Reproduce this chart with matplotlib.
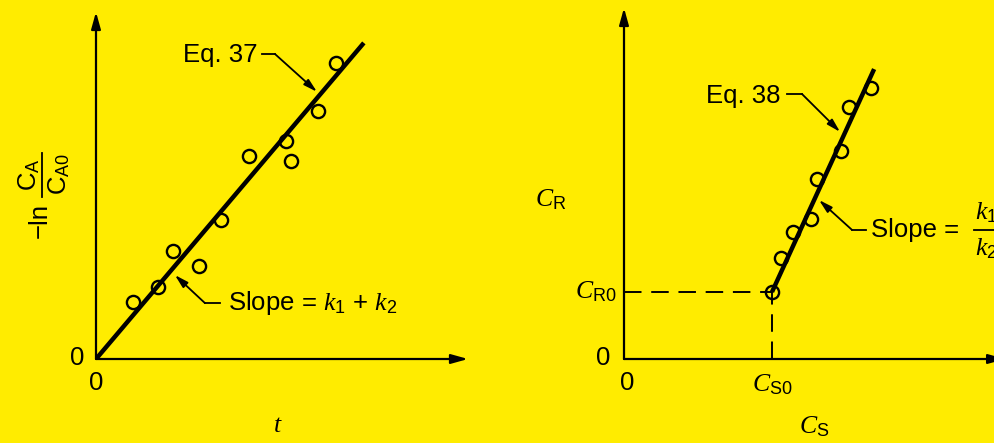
import matplotlib
matplotlib.use("Agg")
import matplotlib.pyplot as plt

plt.rcParams['font.family'] = ['Liberation Sans', 'DejaVu Sans']
plt.rcParams['mathtext.fontset'] = 'custom'
plt.rcParams['mathtext.rm'] = 'Liberation Sans'
plt.rcParams['mathtext.it'] = 'Liberation Serif:italic'
plt.rcParams['mathtext.bf'] = 'Liberation Sans:bold'

BG = '#FFEC00'
FS = 18.5

# left: -ln(CA/CA0) against t
t_pts = [0.99, 1.67, 2.07, 2.77, 3.36, 4.11, 5.11, 5.24, 5.97, 6.45]
lnc_pts = [1.64, 2.07, 3.11, 2.68, 4.01, 5.85, 6.28, 5.71, 7.15, 8.53]
t_fit = [0.0, 7.20]
lnc_fit = [0.0, 9.11]

# right: CR against CS
cs_pts = [4.0, 4.24, 4.57, 5.05, 5.22, 5.86, 6.08, 6.68]
cr_pts = [1.91, 2.88, 3.62, 3.99, 5.13, 5.93, 7.18, 7.72]
cs_fit = [4.0, 6.76]
cr_fit = [1.91, 8.26]
cs0 = cs_pts[0]
cr0 = cr_pts[0]

W, H = 994, 443
fig = plt.figure(figsize=(W / 100, H / 100), dpi=100, facecolor=BG)


def make_axes(x0, y0, x1, y1):
    ax = fig.add_axes([x0 / W, 1 - y0 / H, (x1 - x0) / W, (y0 - y1) / H])
    ax.set_facecolor('none')
    ax.set_xlim(0, 10)
    ax.set_ylim(0, 10)
    for s in ax.spines.values():
        s.set_visible(False)
    ax.set_xticks([])
    ax.set_yticks([])
    return ax


def axis_arrows(ax, xend=1.0):
    style = dict(arrowstyle='-|>,head_length=1.0,head_width=0.28',
                 lw=1.6, color='black', shrinkA=0, shrinkB=0)
    ax.annotate('', xy=(xend, 0), xytext=(0, 0), xycoords='axes fraction',
                arrowprops=style, annotation_clip=False)
    ax.annotate('', xy=(0, 1), xytext=(0, 0), xycoords='axes fraction',
                arrowprops=style, annotation_clip=False)


def pointer(ax, p0, p1, tip):
    ax.plot([p0[0], p1[0]], [p0[1], p1[1]], color='black', lw=1.3, clip_on=False)
    ax.annotate('', xy=tip, xytext=p1,
                arrowprops=dict(arrowstyle='-|>,head_length=0.8,head_width=0.22',
                                lw=1.3, color='black', shrinkA=0, shrinkB=0))


def circles(ax, x, y):
    ax.plot(x, y, 'o', ms=9.5, mfc='none', mec='black', mew=1.7, clip_on=False)


# ---- left panel ----
ax1 = make_axes(96, 359, 468, 12)
axis_arrows(ax1)
ax1.plot(t_fit, lnc_fit, color='black', lw=3.2, solid_capstyle='butt')
circles(ax1, t_pts, lnc_pts)
ax1.text(-0.51, 0.03, '0', fontsize=FS, ha='center', va='center')
ax1.text(0, -0.69, '0', fontsize=FS, ha='center', va='center')
ax1.text(4.89, -1.9, '$t$', fontsize=FS, ha='center', va='center')

# y label: -ln (CA / CA0), built by hand so the fraction stays full size
ax1.text(-1.51, 3.98, '\u2212ln', fontsize=FS, ha='center', va='center',
         rotation=90, clip_on=False)
ax1.plot([-1.46, -1.46], [4.67, 5.94], color='black', lw=1.3, clip_on=False)
ax1.text(-1.80, 5.32, r'C$_\mathrm{A}$', fontsize=FS, ha='center', va='center',
         rotation=90, clip_on=False)
ax1.text(-0.98, 5.32, r'C$_\mathrm{A0}$', fontsize=FS, ha='center', va='center',
         rotation=90, clip_on=False)

ax1.text(4.33, 8.76, 'Eq. 37', fontsize=FS, ha='right', va='center')
pointer(ax1, (4.46, 8.79), (4.81, 8.79), (5.94, 7.70))
ax1.text(3.55, 1.61, 'Slope = $k_1$ + $k_2$', fontsize=FS, ha='left', va='center')
pointer(ax1, (3.33, 1.61), (2.93, 1.61), (2.12, 2.42))

# ---- right panel ----
ax2 = make_axes(624, 359, 994, 8)
axis_arrows(ax2, xend=1.03)
ax2.plot([0, cs0], [cr0, cr0], color='black', lw=1.4, dashes=(9, 5))
ax2.plot([cs0, cs0], [0, cr0], color='black', lw=1.4, dashes=(9, 5))
ax2.plot(cs_fit, cr_fit, color='black', lw=3.2, solid_capstyle='butt')
circles(ax2, cs_pts, cr_pts)
ax2.text(-0.57, 0.03, '0', fontsize=FS, ha='center', va='center')
ax2.text(0.08, -0.68, '0', fontsize=FS, ha='center', va='center')
ax2.text(-1.97, 4.53, r'$C_\mathrm{R}$', fontsize=FS, ha='center', va='center')
ax2.text(-0.2, 1.91, r'$C_\mathrm{R0}$', fontsize=FS, ha='right', va='center')
ax2.text(cs0, -0.74, r'$C_\mathrm{S0}$', fontsize=FS, ha='center', va='center')
ax2.text(5.14, -1.94, r'$C_\mathrm{S}$', fontsize=FS, ha='center', va='center')
ax2.text(4.24, 7.49, 'Eq. 38', fontsize=FS, ha='right', va='center')
pointer(ax2, (4.41, 7.55), (4.81, 7.55), (5.84, 6.47))

# slope label with a full-size k1/k2 fraction running off the right edge
ax2.text(6.68, 3.68, 'Slope =', fontsize=FS, ha='left', va='center', clip_on=False)
ax2.plot([9.45, 10.3], [3.68, 3.68], color='black', lw=1.3, clip_on=False)
ax2.text(9.49, 4.18, '$k_1$', fontsize=FS, ha='left', va='center', clip_on=False)
ax2.text(9.49, 3.14, '$k_2$', fontsize=FS, ha='left', va='center', clip_on=False)
pointer(ax2, (6.54, 3.68), (6.16, 3.68), (5.27, 4.53))

fig.savefig('out.png', dpi=100, facecolor=BG)
